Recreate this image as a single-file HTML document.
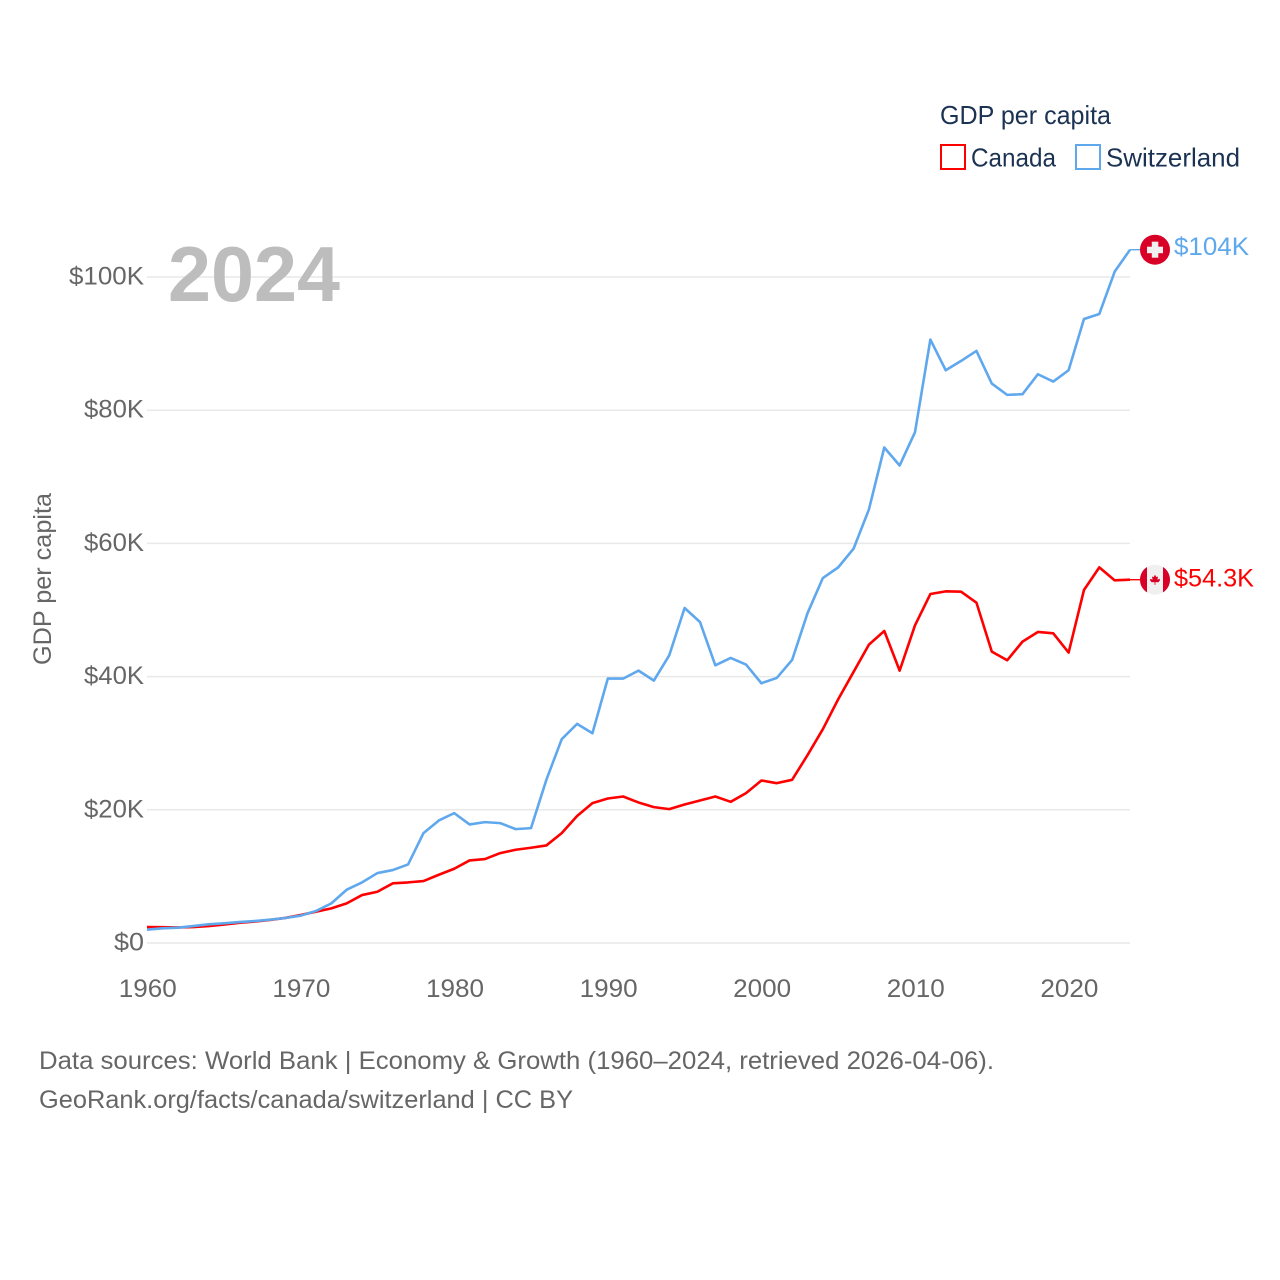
<!DOCTYPE html>
<html lang="en">
<head>
<meta charset="utf-8">
<title>GDP per capita: Canada and Switzerland</title>
<style>
html,body{margin:0;padding:0;background:#fff;width:1280px;height:1280px;overflow:hidden}
svg{display:block}
text{font-family:"Liberation Sans",sans-serif}
</style>
</head>
<body>
<svg id="chart" xmlns="http://www.w3.org/2000/svg" width="1280" height="1280" viewBox="0 0 1280 1280">
  <rect width="1280" height="1280" fill="#fff"/>
  <g id="grid"></g>
  <g id="y-ticks"></g>
  <g id="x-ticks"></g>
  <text x="168" y="301" font-size="78" font-weight="700" fill="#bdbdbd" textLength="172" lengthAdjust="spacingAndGlyphs">2024</text>
  <text transform="translate(51,665) rotate(-90)" font-size="25" fill="#666" textLength="172" lengthAdjust="spacingAndGlyphs">GDP per capita</text>
  <g id="series"></g>
  <g id="end-markers"></g>
  <g>
    <text x="940" y="124" font-size="26" fill="#1b3252" textLength="171" lengthAdjust="spacingAndGlyphs">GDP per capita</text>
    <rect x="941" y="145" width="24" height="24" fill="none" stroke="#ff0000" stroke-width="2"/>
    <text x="971" y="166.5" font-size="26" fill="#1b3252" textLength="85" lengthAdjust="spacingAndGlyphs">Canada</text>
    <rect x="1076" y="145" width="24" height="24" fill="none" stroke="#5fa8ee" stroke-width="2"/>
    <text x="1106" y="166.5" font-size="26" fill="#1b3252" textLength="134" lengthAdjust="spacingAndGlyphs">Switzerland</text>
  </g>
  <text x="39" y="1069" font-size="25" fill="#666" textLength="955" lengthAdjust="spacingAndGlyphs">Data sources: World Bank | Economy &amp; Growth (1960–2024, retrieved 2026-04-06).</text>
  <text x="39" y="1108" font-size="25" fill="#666" textLength="534" lengthAdjust="spacingAndGlyphs">GeoRank.org/facts/canada/switzerland | CC BY</text>
</svg>
<script>
const startYear = 1960;
const canadaValues = [2.4,2.37,2.33,2.4,2.55,2.76,3.03,3.22,3.46,3.76,4.2,4.7,5.2,5.95,7.2,7.7,8.96,9.1,9.3,10.25,11.15,12.4,12.6,13.5,14.0,14.3,14.65,16.5,19.07,21.0,21.7,22.0,21.1,20.4,20.1,20.8,21.4,22.0,21.2,22.5,24.4,24.0,24.5,28.2,32.1,36.6,40.7,44.8,46.85,40.9,47.7,52.4,52.8,52.75,51.1,43.75,42.45,45.25,46.7,46.5,43.6,53.0,56.4,54.45,54.55];
const switzerlandValues = [2.0,2.2,2.3,2.55,2.8,2.95,3.15,3.3,3.5,3.75,4.1,4.8,5.95,8.0,9.1,10.5,10.95,11.8,16.5,18.4,19.5,17.8,18.15,18.0,17.1,17.25,24.5,30.6,32.9,31.5,39.7,39.7,40.9,39.4,43.2,50.3,48.2,41.7,42.8,41.8,39.0,39.8,42.5,49.5,54.8,56.4,59.2,65.1,74.4,71.7,76.7,90.6,86.0,87.4,88.9,84.0,82.3,82.4,85.4,84.3,86.0,93.7,94.45,100.8,104.1];
const yTickValues = [0,20,40,60,80,100];
const yTickLabels = ["$0","$20K","$40K","$60K","$80K","$100K"];
const xTickYears = [1960,1970,1980,1990,2000,2010,2020];
const canadaEndLabel = "$54.3K";
const switzerlandEndLabel = "$104K";

const NS = "http://www.w3.org/2000/svg";
function xScale(year){ return 147 + (year - 1960) * 15.36; }
function yScale(v){ return 943 - v * 6.66; }
function make(tag, attrs, parent){
  const el = document.createElementNS(NS, tag);
  for (const k in attrs) el.setAttribute(k, attrs[k]);
  parent.appendChild(el);
  return el;
}
const grid = document.getElementById("grid");
const yTicks = document.getElementById("y-ticks");
const xTicks = document.getElementById("x-ticks");
const seriesG = document.getElementById("series");
const markers = document.getElementById("end-markers");

yTickValues.forEach(function(v, i){
  const line = make("line", {x1:xScale(1960), x2:1130, y1:yScale(v), y2:yScale(v), stroke:"#e9e9e9", "stroke-width":1.5}, grid);
  
  
  const t = make("text", {x:144, y:yScale(v)+7.5, "text-anchor":"end", "font-size":25, fill:"#666"}, yTicks);
  
  
  t.textContent = yTickLabels[i];
  t.setAttribute("textLength", yTickLabels[i].length * 15 );
  t.setAttribute("lengthAdjust", "spacingAndGlyphs");
});
xTickYears.forEach(function(y){
  const t = make("text", {x:xScale(y)+0.8, y:997, "text-anchor":"middle", "font-size":25, fill:"#666", textLength:58, lengthAdjust:"spacingAndGlyphs"}, xTicks);
  
  
  t.textContent = String(y);
});

function linePath(values){
  return values.map(function(v, i){
    return (i ? "L" : "M") + xScale(startYear + i).toFixed(2) + " " + yScale(v).toFixed(2);
  }).join("");
}
const canadaLine = make("path", {d:linePath(canadaValues), fill:"none", stroke:"#ff0000", "stroke-width":2.6, "stroke-linejoin":"round"}, seriesG);


const swissLine = make("path", {d:linePath(switzerlandValues), fill:"none", stroke:"#5fa8ee", "stroke-width":2.6, "stroke-linejoin":"round"}, seriesG);



function lastY(values){ return yScale(values[values.length - 1]); }
function lastX(values){ return xScale(startYear + values.length - 1); }

// Switzerland end marker
(function(){
  const y = lastY(switzerlandValues), x = lastX(switzerlandValues);
  const conn = make("line", {x1:x, x2:1141, y1:y, y2:y, stroke:"#5fa8ee", "stroke-width":1.4}, markers);
  
  
  const flag = make("g", {transform:"translate(1155," + y + ")"}, markers);
  
  
  make("circle", {r:15, fill:"#d80027"}, flag);
  make("rect", {x:-8, y:-3, width:16, height:6.5, fill:"#f0f0f0"}, flag);
  make("rect", {x:-3.2, y:-8, width:6.5, height:16, fill:"#f0f0f0"}, flag);
  const label = make("text", {x:1174, y:y+5.5, "font-size":25, fill:"#5fa8ee", textLength:75, lengthAdjust:"spacingAndGlyphs"}, markers);
  
  
  label.textContent = switzerlandEndLabel;
})();

// Canada end marker
(function(){
  const y = lastY(canadaValues), x = lastX(canadaValues);
  const conn = make("line", {x1:x, x2:1141, y1:y, y2:y, stroke:"#ff0000", "stroke-width":1.4}, markers);
  
  
  const flag = make("g", {transform:"translate(1155," + y + ")"}, markers);
  
  
  make("circle", {r:15, fill:"#f0f0f0"}, flag);
  make("path", {d:"M-8 -12.7A15 15 0 0 0 -8 12.7Z", fill:"#d80027"}, flag);
  make("path", {d:"M8 -12.7A15 15 0 0 1 8 12.7Z", fill:"#d80027"}, flag);
  make("path", {d:"M0 -5L1.4 -2.6L3 -3.2L2.4 0L4.6 -1L5 0.6L3.4 2.6L0.4 2.4L0.5 5H-0.5L-0.4 2.4L-3.4 2.6L-5 0.6L-4.6 -1L-2.4 0L-3 -3.2L-1.4 -2.6Z", fill:"#d80027"}, flag);
  const label = make("text", {x:1174, y:y+7, "font-size":25, fill:"#ff0000", textLength:80, lengthAdjust:"spacingAndGlyphs"}, markers);
  
  
  label.textContent = canadaEndLabel;
})();
</script>
</body>
</html>
